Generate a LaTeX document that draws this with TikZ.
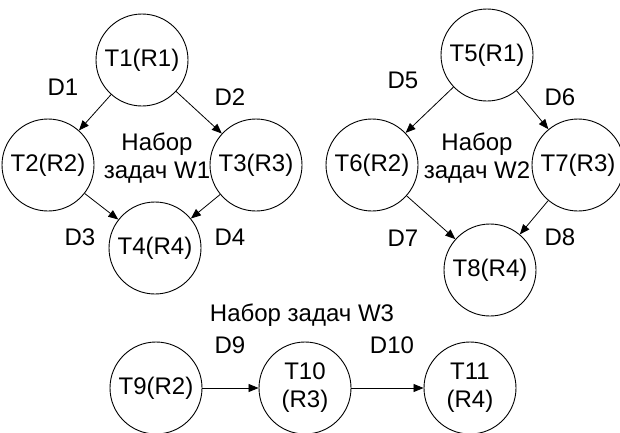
\documentclass[tikz,border=0pt]{standalone}
\usepackage{fontspec}
\setmainfont{Liberation Sans}
\usetikzlibrary{arrows.meta}
\begin{document}
\begin{tikzpicture}[x=1pt,y=-1pt,
  every node/.style={font=\fontsize{24}{28}\selectfont},
  task/.style={circle,draw,line width=0.9pt,minimum size=92pt,inner sep=0pt,align=center},
  lbl/.style={inner sep=0pt,align=center},
  dep/.style={line width=0.8pt,-{Triangle[length=10pt,width=8pt]}}]
\useasboundingbox (0,0) rectangle (620,432);
% W1
\node[task] (t1) at (142,60) {T1(R1)};
\node[task] (t2) at (48,165) {T2(R2)};
\node[task] (t3) at (256,165) {T3(R3)};
\node[task] (t4) at (155,248) {T4(R4)};
\node[lbl] (w1) at (157,158) {Набор\\задач W1};
\node[lbl] (d1) at (63,87) {D1};
\node[lbl] (d2) at (230,97) {D2};
\node[lbl] (d3) at (80,237) {D3};
\node[lbl] (d4) at (230,237) {D4};
\draw[dep] (t1) -- (t2);
\draw[dep] (t1) -- (t3);
\draw[dep] (t2) -- (t4);
\draw[dep] (t3) -- (t4);
% W2
\node[task] (t5) at (487,55) {T5(R1)};
\node[task] (t6) at (372,165) {T6(R2)};
\node[task] (t7) at (578,165) {T7(R3)};
\node[task] (t8) at (490,270) {T8(R4)};
\node[lbl] (w2) at (477,158) {Набор\\задач W2};
\node[lbl] (d5) at (403,80) {D5};
\node[lbl] (d6) at (560,97) {D6};
\node[lbl] (d7) at (403,238) {D7};
\node[lbl] (d8) at (560,237) {D8};
\draw[dep] (t5) -- (t6);
\draw[dep] (t5) -- (t7);
\draw[dep] (t6) -- (t8);
\draw[dep] (t7) -- (t8);
% W3
\node[lbl] (w3) at (302,315) {Набор задач W3};
\node[task] (t9) at (156,388) {T9(R2)};
\node[task] (t10) at (305,388) {T10\\(R3)};
\node[task] (t11) at (470,388) {T11\\(R4)};
\node[lbl] (d9) at (230,345) {D9};
\node[lbl] (d10) at (392,345) {D10};
\draw[dep] (t9) -- (t10);
\draw[dep] (t10) -- (t11);
\end{tikzpicture}
\end{document}
